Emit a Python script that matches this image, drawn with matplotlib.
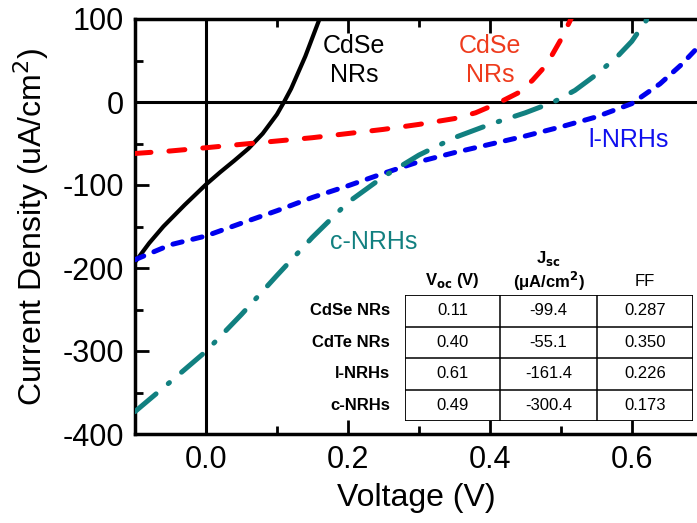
import matplotlib
matplotlib.use("Agg")
import matplotlib.pyplot as plt
from matplotlib.patches import Rectangle

plt.rcParams['font.family'] = ['Liberation Sans', 'DejaVu Sans']
plt.rcParams['axes.unicode_minus'] = False

# J-V curves (voltage in V, current density in uA/cm^2)
cdse_v = [-0.1, -0.08, -0.06, -0.03, 0.0, 0.02, 0.04, 0.06, 0.08, 0.10, 0.11, 0.12, 0.14, 0.16, 0.17]
cdse_j = [-193, -170, -150, -124, -99.4, -84.6, -70.6, -56, -38, -15, 0, 16, 55, 100, 125]

cdte_v = [-0.1, -0.05, 0.0, 0.05, 0.1, 0.15, 0.2, 0.25, 0.3, 0.35, 0.38, 0.41, 0.44, 0.46, 0.48, 0.50, 0.52]
cdte_j = [-62, -59, -55.1, -51, -47, -43, -38, -33, -27, -20, -13, -2, 11, 26, 45, 75, 110]

lnrh_v = [-0.1, -0.05, 0.0, 0.05, 0.1, 0.15, 0.2, 0.25, 0.3, 0.35, 0.4, 0.45, 0.5, 0.55, 0.6, 0.64, 0.67, 0.70]
lnrh_j = [-190, -172, -161.4, -146, -131, -115, -101, -86, -72, -61, -51, -41, -30, -18, -2, 22, 45, 72]

cnrh_v = [-0.1, -0.05, 0.0, 0.05, 0.1, 0.15, 0.2, 0.25, 0.3, 0.35, 0.4, 0.45, 0.49, 0.52, 0.55, 0.58, 0.60, 0.63]
cnrh_j = [-373, -337, -300.4, -256, -209, -163, -121, -90, -64, -43, -27, -13, 0, 14, 33, 55, 73, 110]

# Summary table
table_rows = ["CdSe NRs", "CdTe NRs", "l-NRHs", "c-NRHs"]
voc = ["0.11", "0.40", "0.61", "0.49"]
jsc = ["-99.4", "-55.1", "-161.4", "-300.4"]
ff = ["0.287", "0.350", "0.226", "0.173"]

W, H = 697, 523
fig = plt.figure(figsize=(W / 100, H / 100), dpi=100)
ax = fig.add_axes([135 / W, 1 - 434 / H, (697 - 135) / W, (434 - 19) / H])

ax.set_xlim(-0.1, 0.692)
ax.set_ylim(-400, 100)

ax.axhline(0, color='black', lw=2.2, zorder=1)
ax.axvline(0, color='black', lw=2.2, zorder=1)

ax.plot(cdse_v, cdse_j, color='black', lw=3.0, solid_capstyle='round',
        solid_joinstyle='round', zorder=3)
ax.plot(cdte_v, cdte_j, color='#ff0000', lw=3.6, dashes=(3.2, 3.6),
        dash_capstyle='round', zorder=3)
ax.plot(lnrh_v, lnrh_j, color='#0000ee', lw=3.6, dashes=(1.9, 2.2),
        dash_capstyle='round', zorder=3)
ax.plot(cnrh_v, cnrh_j, color='#118080', lw=3.6, dashes=(5.5, 3.2, 0.3, 3.2),
        dash_capstyle='round', zorder=3)

# Curve labels
ax.text(0.209, 50, "CdSe\nNRs", color='black', fontsize=18, ha='center', va='center',
        linespacing=1.25)
ax.text(0.40, 50, "CdSe\nNRs", color='#ee3b1d', fontsize=18, ha='center', va='center',
        linespacing=1.25)
ax.text(0.596, -46, "l-NRHs", color='#1010ee', fontsize=18, ha='center', va='center')
ax.text(0.237, -169, "c-NRHs", color='#128080', fontsize=18, ha='center', va='center')

ax.set_xticks([0.0, 0.2, 0.4, 0.6])
ax.set_xticklabels(["0.0", "0.2", "0.4", "0.6"])
ax.set_xticks([-0.1, 0.1, 0.3, 0.5], minor=True)
ax.set_yticks([-400, -300, -200, -100, 0, 100])
ax.set_yticks([-350, -250, -150, -50, 50], minor=True)

ax.tick_params(which='both', direction='in', top=True, right=False, width=2.0,
               labelsize=22, pad=8)
ax.tick_params(which='major', length=10)
ax.tick_params(which='minor', length=6)
for side in ['left', 'bottom', 'top']:
    ax.spines[side].set_linewidth(2.5)
ax.spines['right'].set_visible(False)

ax.set_xlabel("Voltage (V)", fontsize=23, labelpad=6)
ax.set_ylabel("Current Density (uA/cm$^2$)", fontsize=23, labelpad=8)

# Inset table
tx0, ty0, tx1, ty1 = 405, 295, 693, 421
tab = fig.add_axes([tx0 / W, 1 - ty1 / H, (tx1 - tx0) / W, (ty1 - ty0) / H])
tab.set_xlim(0, tx1 - tx0)
tab.set_ylim(ty1 - ty0, 0)
tab.axis('off')
tab.add_patch(Rectangle((0, 0), tx1 - tx0, ty1 - ty0, facecolor='white',
                        edgecolor='black', lw=1.3, zorder=1))
col_edges = [0, 95, 192, tx1 - tx0]
n = len(table_rows)
row_h = (ty1 - ty0) / n
for cx in col_edges[1:-1]:
    tab.plot([cx, cx], [0, ty1 - ty0], color='black', lw=1.1, zorder=2)
for i in range(1, n):
    tab.plot([0, tx1 - tx0], [i * row_h, i * row_h], color='black', lw=1.1, zorder=2)

centers = [(col_edges[i] + col_edges[i + 1]) / 2 for i in range(3)]
for i in range(n):
    yc = (i + 0.5) * row_h
    tab.text(-15, yc, table_rows[i], fontsize=12, fontweight='bold', ha='right',
             va='center', clip_on=False)
    for c, vals in zip(centers, [voc, jsc, ff]):
        tab.text(c, yc, vals[i], fontsize=12, ha='center', va='center')

tab.text(centers[0], -14, r"V$_{\mathbf{oc}}$ (V)", fontsize=12, fontweight='bold',
         ha='center', va='center', clip_on=False)
tab.text(centers[1], -36, r"J$_{\mathbf{sc}}$", fontsize=12, fontweight='bold',
         ha='center', va='center', clip_on=False)
tab.text(centers[1], -14, "(μA/cm$^{\\mathbf{2}}$)", fontsize=12, fontweight='bold',
         ha='center', va='center', clip_on=False)
tab.text(centers[2], -14, "FF", fontsize=12, ha='center', va='center', clip_on=False)

fig.savefig("out.png", dpi=100)
